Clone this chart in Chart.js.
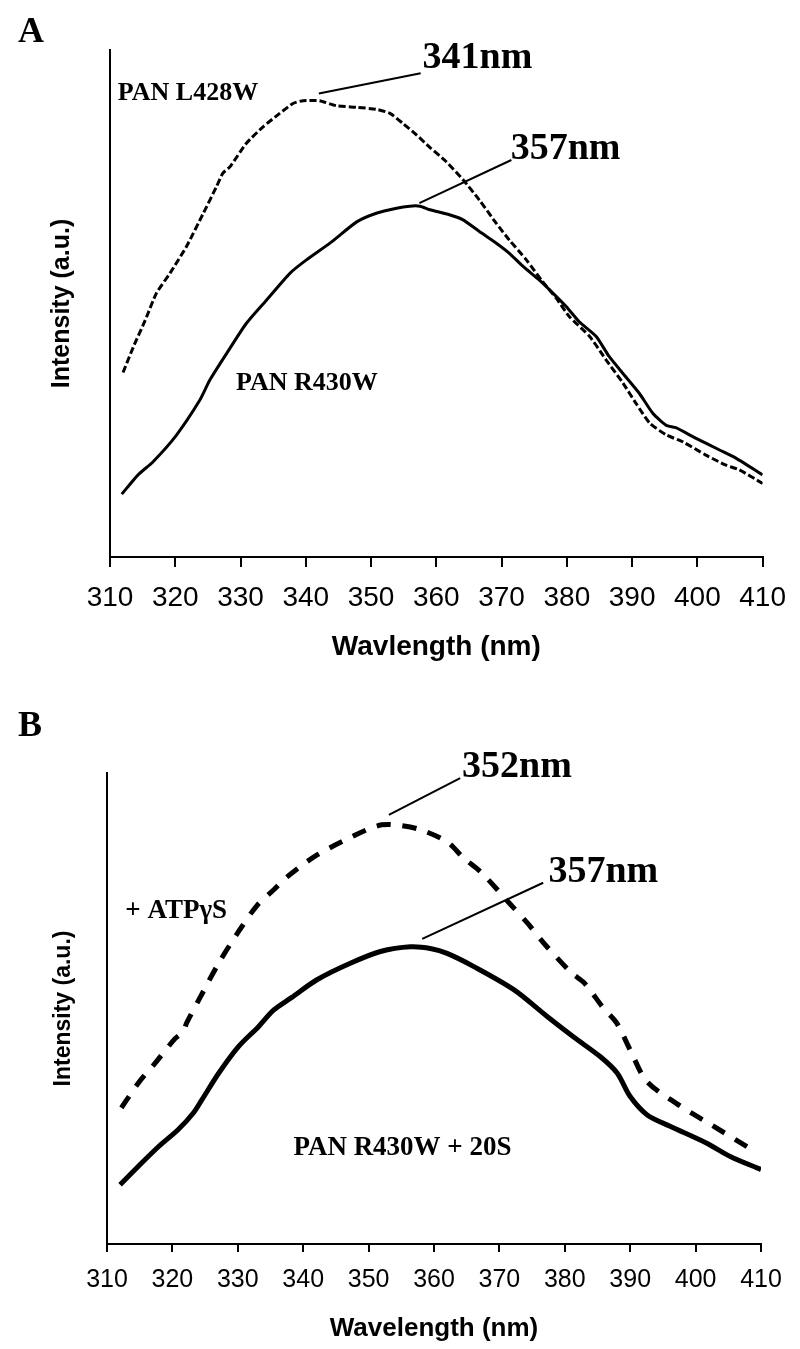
<!DOCTYPE html>
<html>
<head>
<meta charset="utf-8">
<script src="https://cdn.jsdelivr.net/npm/chart.js@4"></script>
<style>
  body { margin: 0; background: #fff; }
  #wrap { position: relative; width: 800px; height: 1349px; background: #fff; }
  canvas { position: absolute; left: 0; }
  #chartA { top: 0; }
  #chartB { top: 680px; }
  .panel { position: absolute; font: bold 36px "Liberation Serif", "Times New Roman", serif; line-height: 1; }
</style>
</head>
<body>
<div id="wrap">
  <canvas id="chartA" width="800" height="680"></canvas>
  <canvas id="chartB" width="800" height="669"></canvas>
  <div class="panel" style="left:18px; top:12px;">A</div>
  <div class="panel" style="left:18px; top:706px;">B</div>
</div>
<script>
// x axis ticks (nm)
const xTicks = [310, 320, 330, 340, 350, 360, 370, 380, 390, 400, 410];

// Panel A - PAN L428W (dashed)
const waveA_L428W = [312, 313.6, 315.4, 317.1, 319.2, 321.7, 324.3, 326.3, 327.3, 328.4, 330.9, 333.5, 336, 338.1, 339.6, 342.1, 344.7, 347.8, 350.8, 352.9, 354.9, 357, 359, 361.5, 364.1, 366.6, 369.2, 371.2, 373.8, 376.3, 378.4, 380.4, 383.5, 386, 388.6, 390.6, 392.7, 395.2, 397.8, 401.3, 404.4, 406.4, 410];
const intA_L428W = [36.4, 41.5, 46.7, 52.0, 56.0, 61.2, 67.8, 73.0, 75.7, 77.0, 81.6, 84.9, 87.5, 89.5, 90.0, 90.0, 89.0, 88.7, 88.3, 87.5, 85.5, 83.2, 80.8, 78.0, 74.4, 70.4, 65.8, 62.5, 58.6, 54.3, 51.0, 47.4, 43.5, 38.9, 34.3, 30.3, 26.4, 24.1, 22.7, 20.1, 18.1, 17.2, 14.5];

// Panel A - PAN R430W (solid)
const waveA_R430W = [311.8, 314.3, 316.6, 320.1, 323.7, 325.3, 327.9, 330.9, 334, 337.6, 340.1, 343.7, 347.8, 350.8, 353.9, 355.9, 357.5, 359, 362, 364.1, 366.6, 369.2, 371.2, 373.3, 375.8, 377.9, 379.9, 381.9, 384.5, 386.5, 388.6, 391.1, 393.2, 395.2, 396.7, 399.8, 403.4, 405.9, 410];
const intA_R430W = [12.4, 16.2, 18.8, 23.9, 30.8, 34.9, 40.2, 46.1, 50.7, 56.0, 58.6, 61.9, 66.1, 67.8, 68.8, 69.2, 69.2, 68.5, 67.5, 66.5, 64.2, 61.9, 59.9, 57.3, 54.6, 52.0, 49.4, 46.4, 43.5, 39.5, 36.2, 32.3, 28.3, 26.0, 25.5, 23.4, 21.1, 19.5, 16.2];

// Panel B - + ATPgammaS (dashed)
const waveB_ATP = [312.2, 314.8, 317.3, 320.4, 321.6, 322.2, 324.6, 327.1, 330.1, 332.9, 335.5, 337.5, 342, 347.5, 350, 352, 354, 357.6, 362, 364.5, 367.3, 371.5, 374.5, 376.9, 381, 383, 385.9, 387.9, 390, 392.5, 397.1, 402.5, 408.2];
const intB_ATP = [28.9, 34.2, 38.3, 43.6, 45.0, 47.0, 53.3, 59.7, 66.3, 71.8, 75.2, 77.9, 82.5, 86.5, 88.1, 89.0, 89.0, 88.1, 85.4, 82.0, 78.8, 72.4, 67.8, 63.7, 57.6, 55.4, 50.1, 47.0, 41.2, 34.6, 29.8, 25.2, 20.4];

// Panel B - PAN R430W + 20S (solid)
const waveB_20S = [312, 314.8, 317.9, 320.9, 323.2, 324.5, 327.1, 330.1, 333.2, 335.5, 338.2, 342.1, 347.2, 351.8, 356.4, 359.6, 362, 366.1, 372.2, 377.3, 381.3, 385.4, 388, 390, 392.6, 396.1, 401.7, 405.3, 410];
const intB_20S = [12.6, 16.5, 20.7, 24.3, 27.8, 30.6, 36.3, 41.9, 46.2, 49.7, 52.3, 56.1, 59.6, 62.1, 63.1, 62.7, 61.7, 58.9, 54.0, 48.3, 44.0, 39.8, 36.3, 31.3, 27.4, 25.0, 21.4, 18.6, 15.8];

function toPoints(xs, ys) {
  return xs.map((x, i) => ({ x: x, y: ys[i] }));
}

// draws the peak labels and leader lines, positioned in data units
const peakNotes = {
  id: 'peakNotes',
  afterDatasetsDraw(chart, args, opts) {
    const { ctx, scales: { x, y } } = chart;
    ctx.save();
    ctx.fillStyle = '#000';
    ctx.strokeStyle = '#000';
    (opts.lines || []).forEach(l => {
      ctx.lineWidth = 2;
      ctx.beginPath();
      ctx.moveTo(x.getPixelForValue(l[0]), y.getPixelForValue(l[1]));
      ctx.lineTo(x.getPixelForValue(l[2]), y.getPixelForValue(l[3]));
      ctx.stroke();
    });
    (opts.texts || []).forEach(t => {
      ctx.font = t.font;
      ctx.textAlign = 'left';
      ctx.textBaseline = 'middle';
      ctx.fillText(t.text, x.getPixelForValue(t.at[0]), y.getPixelForValue(t.at[1]));
    });
    ctx.restore();
  }
};

function makeChart(id, o) {
  const ctx = document.getElementById(id).getContext('2d');
  return new Chart(ctx, {
    type: 'line',
    data: { datasets: o.datasets },
    options: {
      responsive: false,
      animation: false,
      layout: { padding: o.padding },
      plugins: {
        legend: { display: false },
        tooltip: { enabled: false },
        peakNotes: o.notes
      },
      elements: { point: { radius: 0 } },
      scales: {
        x: {
          type: 'linear',
          min: 310,
          max: 410,
          afterBuildTicks: (scale) => { scale.ticks = xTicks.map(v => ({ value: v })); },
          afterFit: (scale) => { scale.height = o.xHeight; },
          grid: { display: true, drawOnChartArea: false, drawTicks: true, tickLength: o.tickLen, color: '#000', lineWidth: 2 },
          border: { display: true, color: '#000', width: 2 },
          ticks: { color: '#000', padding: o.tickPad, font: { family: 'Liberation Sans', size: o.tickSize } },
          title: { display: true, text: o.xTitle, color: '#000', font: { family: 'Liberation Sans', size: o.xTitleSize, weight: 'bold' }, padding: { top: 0, bottom: o.xTitlePad } }
        },
        y: {
          min: 0,
          max: 100,
          afterFit: (scale) => { scale.width = o.yWidth; },
          grid: { display: false },
          border: { display: true, color: '#000', width: 2 },
          ticks: { display: false },
          title: { display: true, text: 'Intensity (a.u.)', color: '#000', font: { family: 'Liberation Sans', size: o.yTitleSize, weight: 'bold' }, padding: { top: o.yTitlePad, bottom: 0 } }
        }
      }
    },
    plugins: [peakNotes]
  });
}

const serifBig = 'bold 38px "Liberation Serif"';

makeChart('chartA', {
  padding: { top: 50, right: 37, bottom: 0, left: 0 },
  xHeight: 123, yWidth: 110,
  tickLen: 10, tickPad: 14, tickSize: 28,
  xTitle: 'Wavlength (nm)', xTitleSize: 28, xTitlePad: 16,
  yTitleSize: 25, yTitlePad: 47,
  datasets: [
    { label: 'PAN L428W', data: toPoints(waveA_L428W, intA_L428W), borderColor: '#000', borderWidth: 3, borderDash: [7, 3], tension: 0.2, fill: false },
    { label: 'PAN R430W', data: toPoints(waveA_R430W, intA_R430W), borderColor: '#000', borderWidth: 3, tension: 0.2, fill: false }
  ],
  notes: {
    lines: [[342, 91.4, 357.6, 95.4], [357.4, 69.8, 371.5, 78.3]],
    texts: [
      { text: '341nm', at: [357.9, 98.4], font: serifBig },
      { text: '357nm', at: [371.4, 80.5], font: serifBig },
      { text: 'PAN L428W', at: [311.2, 91.5], font: 'bold 26px "Liberation Serif"' },
      { text: 'PAN R430W', at: [329.3, 34.3], font: 'bold 26px "Liberation Serif"' }
    ]
  }
});

makeChart('chartB', {
  padding: { top: 93, right: 39, bottom: 0, left: 0 },
  xHeight: 105, yWidth: 107,
  tickLen: 8, tickPad: 13, tickSize: 25,
  xTitle: 'Wavelength (nm)', xTitleSize: 26, xTitlePad: 5,
  yTitleSize: 23, yTitlePad: 50,
  datasets: [
    { label: '+ ATPγS', data: toPoints(waveB_ATP, intB_ATP), borderColor: '#000', borderWidth: 5, borderDash: [14, 12], tension: 0.3, fill: false },
    { label: 'PAN R430W + 20S', data: toPoints(waveB_20S, intB_20S), borderColor: '#000', borderWidth: 5, tension: 0.3, fill: false }
  ],
  notes: {
    lines: [[353.1, 91.1, 364.0, 98.9], [358.2, 64.8, 376.7, 76.7]],
    texts: [
      { text: '352nm', at: [364.3, 101.3], font: serifBig },
      { text: '357nm', at: [377.5, 79.0], font: serifBig },
      { text: '+ ATPγS', at: [312.8, 70.7], font: 'bold 27px "Liberation Serif"' },
      { text: 'PAN R430W + 20S', at: [338.5, 20.4], font: 'bold 27px "Liberation Serif"' }
    ]
  }
});
</script>
</body>
</html>
